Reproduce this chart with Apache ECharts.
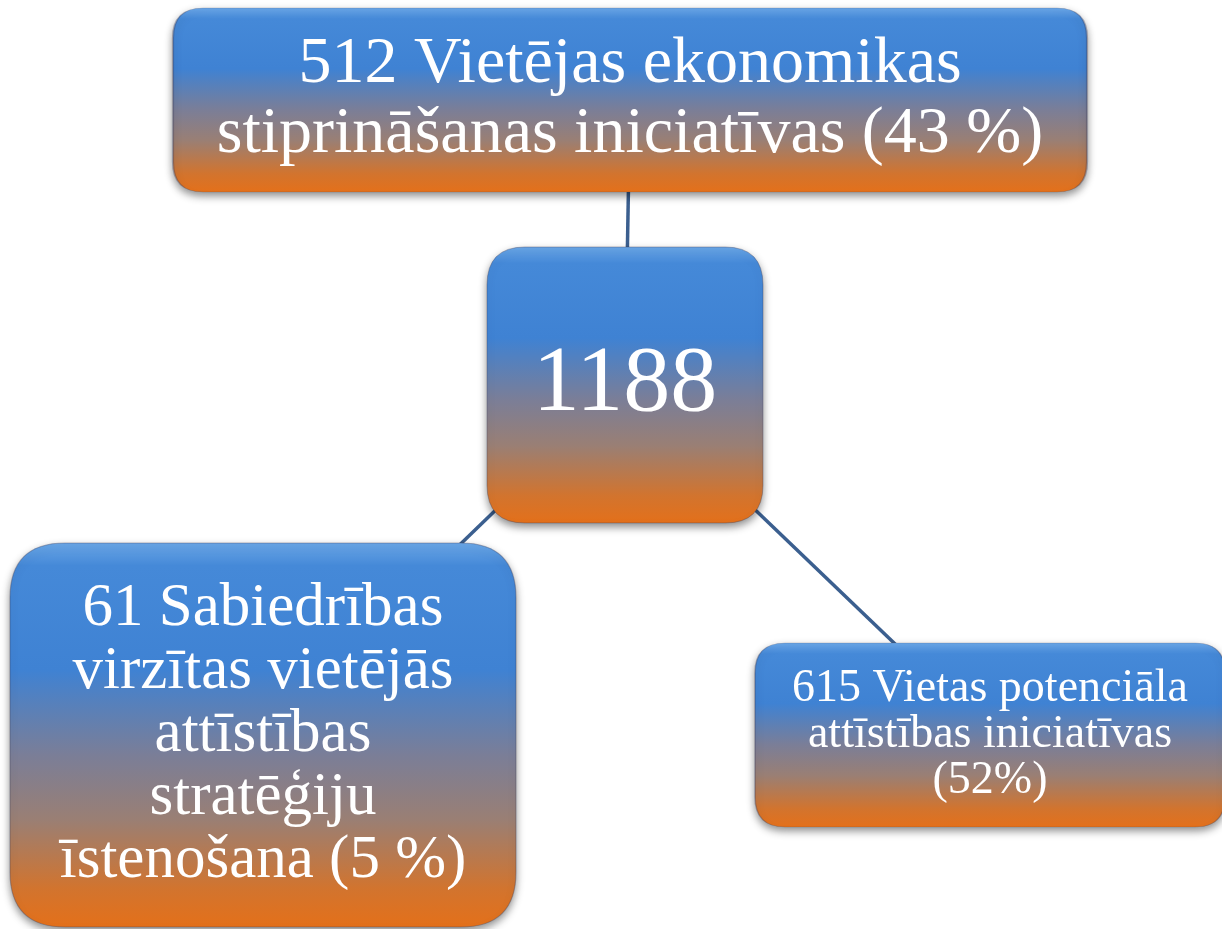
<!DOCTYPE html>
<html>
<head>
<meta charset="utf-8">
<title>1188 iniciatīvas</title>
<script src="https://cdn.jsdelivr.net/npm/echarts@6/dist/echarts.min.js"></script>
<style>
  html, body { margin: 0; padding: 0; background: #fff; }
  #chart { width: 1222px; height: 929px; }
</style>
</head>
<body>
<div id="chart"></div>
<script>
// dati
var totalCount = 1188;
var branchCounts = [512, 61, 615];
var branchShares = [43, 5, 52];
var branchTitles = [
    ['{n} Vietējas ekonomikas', 'stiprināšanas iniciatīvas ({p} %)'],
    ['{n} Sabiedrības', 'virzītas vietējās', 'attīstības', 'stratēģiju', 'īstenošana ({p} %)'],
    ['{n} Vietas potenciāla', 'attīstības iniciatīvas', '({p}%)']
];

// izkārtojums (centrs, izmērs, stūra rādiuss, fonts)
var boxPos = [[625, 385], [630, 100], [263, 735], [990, 735]];
var boxSize = [[276, 276], [914, 184], [506, 384], [470, 184]];
var boxRadius = [38, 30, 55, 30];
var boxFont = [[94, 94, 0], [66, 70, 6], [61, 63, 4], [46, 46, 4]];

function roundRectPath(w, h, r) {
    return 'path://M' + r + ',0 L' + (w - r) + ',0 Q' + w + ',0 ' + w + ',' + r +
        ' L' + w + ',' + (h - r) + ' Q' + w + ',' + h + ' ' + (w - r) + ',' + h +
        ' L' + r + ',' + h + ' Q0,' + h + ' 0,' + (h - r) +
        ' L0,' + r + ' Q0,0 ' + r + ',0 Z';
}

var fill = new echarts.graphic.LinearGradient(0, 0, 0, 1, [
    { offset: 0, color: '#6aa6e6' },
    { offset: 0.06, color: '#4589d8' },
    { offset: 0.33, color: '#3f82d3' },
    { offset: 0.55, color: '#7a7e98' },
    { offset: 0.72, color: '#9a7f74' },
    { offset: 0.9, color: '#d2742e' },
    { offset: 1, color: '#e4701a' }
]);

var labels = [String(totalCount)];
for (var i = 0; i < branchCounts.length; i++) {
    labels.push(branchTitles[i].join('\n')
        .replace('{n}', branchCounts[i])
        .replace('{p}', branchShares[i]));
}

var nodes = labels.map(function (txt, i) {
    return {
        name: 'n' + i,
        value: boxPos[i],
        symbol: roundRectPath(boxSize[i][0], boxSize[i][1], boxRadius[i]),
        symbolSize: boxSize[i],
        label: {
            formatter: txt,
            fontSize: boxFont[i][0],
            lineHeight: boxFont[i][1],
            padding: [boxFont[i][2], 0, 0, 0]
        }
    };
});

var links = branchCounts.map(function (c, i) {
    return { source: 'n0', target: 'n' + (i + 1) };
});

var chart = echarts.init(document.getElementById('chart'));
chart.setOption({
    animation: false,
    grid: { left: 0, right: 0, top: 0, bottom: 0 },
    xAxis: { type: 'value', min: 0, max: 1222, show: false },
    yAxis: { type: 'value', min: 0, max: 929, inverse: true, show: false },
    series: [{
        type: 'graph',
        layout: 'none',
        coordinateSystem: 'cartesian2d',
        symbolKeepAspect: false,
        data: nodes,
        links: links,
        itemStyle: {
            color: fill,
            borderColor: 'rgba(60,60,90,0.35)',
            borderWidth: 1,
            shadowBlur: 8,
            shadowOffsetY: 4,
            shadowColor: 'rgba(0,0,0,0.45)'
        },
        lineStyle: { color: '#3b5f8f', width: 3.5, opacity: 1 },
        label: {
            show: true,
            position: 'inside',
            color: '#fff',
            fontFamily: 'Liberation Serif'
        },
        emphasis: { disabled: true }
    }]
});
</script>
</body>
</html>
